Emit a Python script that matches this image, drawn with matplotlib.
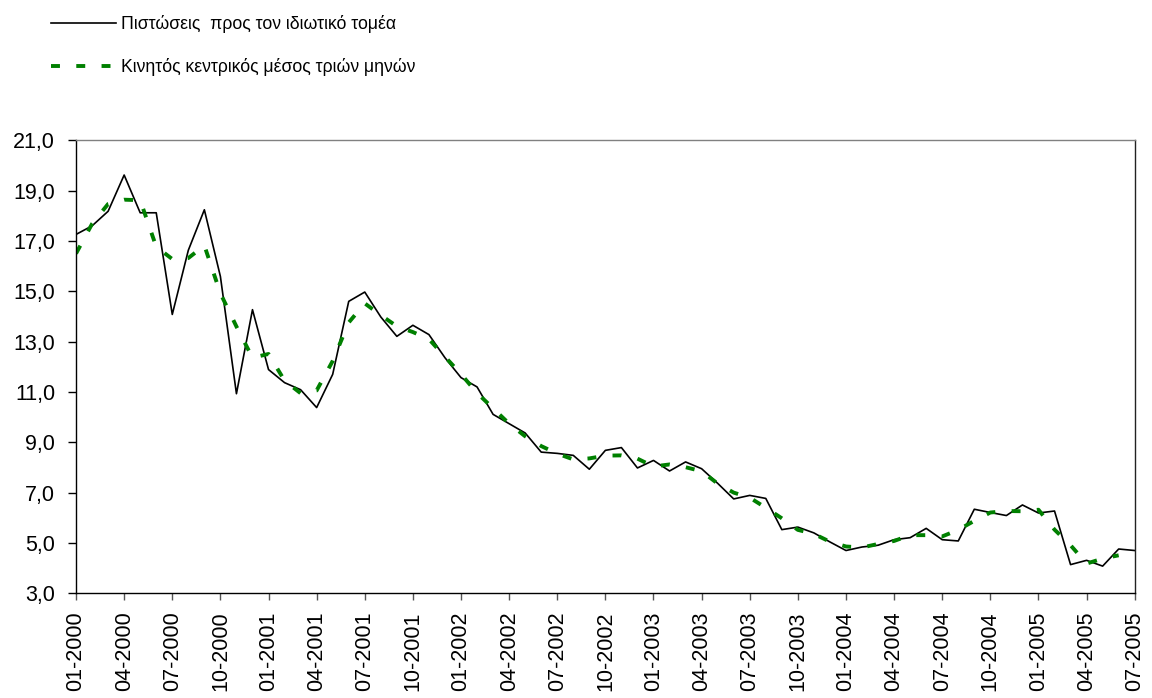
import matplotlib
matplotlib.use("Agg")
import matplotlib.pyplot as plt
import numpy as np

plt.rcParams['font.family'] = ['Liberation Sans', 'DejaVu Sans']

# monthly values, 01-2000 .. 07-2005
credit = [17.26, 17.60, 18.18, 19.62, 18.12, 18.12, 14.08, 16.63, 18.24, 15.59,
          10.93, 14.27, 11.89, 11.37, 11.09, 10.38, 11.70, 14.60, 14.97, 13.98,
          13.21, 13.65, 13.28, 12.36, 11.57, 11.20, 10.11, 9.74, 9.37, 8.61,
          8.56, 8.48, 7.93, 8.68, 8.79, 7.98, 8.28, 7.86, 8.22, 7.95,
          7.37, 6.75, 6.89, 6.77, 5.53, 5.63, 5.40, 5.04, 4.70, 4.84,
          4.91, 5.13, 5.21, 5.58, 5.13, 5.08, 6.34, 6.21, 6.09, 6.51,
          6.19, 6.27, 4.14, 4.31, 4.08, 4.76, 4.70]

moving_avg = [16.50, 17.68, 18.47, 18.64, 18.62, 16.77, 16.28, 16.32, 16.82, 14.92,
              13.60, 12.36, 12.51, 11.45, 10.95, 11.06, 12.23, 13.76, 14.52, 14.05,
              13.61, 13.38, 13.10, 12.40, 11.71, 10.96, 10.35, 9.74, 9.24, 8.85,
              8.55, 8.32, 8.36, 8.47, 8.48, 8.35, 8.04, 8.12, 8.01, 7.85,
              7.36, 7.00, 6.80, 6.40, 5.98, 5.52, 5.36, 5.05, 4.86, 4.82,
              4.96, 5.08, 5.31, 5.31, 5.26, 5.52, 5.88, 6.21, 6.27, 6.26,
              6.32, 5.53, 4.91, 4.18, 4.38, 4.51, np.nan]

tick_labels = ["01-2000", "04-2000", "07-2000", "10-2000",
               "01-2001", "04-2001", "07-2001", "10-2001",
               "01-2002", "04-2002", "07-2002", "10-2002",
               "01-2003", "04-2003", "07-2003", "10-2003",
               "01-2004", "04-2004", "07-2004", "10-2004",
               "01-2005", "04-2005", "07-2005"]

x = np.arange(len(credit))

fig = plt.figure(figsize=(11.52, 6.98), dpi=100)
ax = fig.add_axes([0.066, 0.150, 0.919, 0.649])

ax.plot(x, credit, color='black', lw=1.2,
        label='Πιστώσεις  προς τον ιδιωτικό τομέα')
ax.plot(x, moving_avg, color='#008000', lw=2.8, dashes=(2.3, 4.2),
        label='Κινητός κεντρικός μέσος τριών μηνών')

ax.set_xlim(0, len(credit) - 1)
ax.set_ylim(3, 21)
ax.set_yticks(np.arange(3, 21.1, 2))
ax.set_yticklabels([f"{v:.1f}".replace('.', ',') for v in np.arange(3, 21.1, 2)])
ax.set_xticks(x[::3])
ax.set_xticklabels(tick_labels, rotation=90)

ax.tick_params(axis='y', direction='out', length=6, width=1, labelsize=15.5, pad=9)
ax.tick_params(axis='x', direction='out', length=5, width=1, labelsize=15.5, pad=8,
               color='#555555')

ax.spines['top'].set_color('#808080')
ax.spines['right'].set_color('#222222')
for s in ax.spines.values():
    s.set_linewidth(1)

fig.legend(loc='upper left', bbox_to_anchor=(0.031, 1.0), frameon=False,
           fontsize=12.7, handlelength=3.7, handletextpad=0.3, labelspacing=1.4,
           borderaxespad=0.45)

fig.savefig("out.png", dpi=100)
